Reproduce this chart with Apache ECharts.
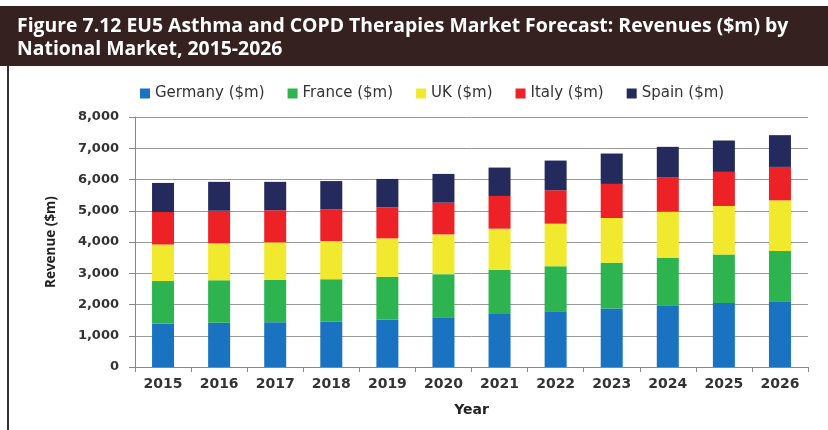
<!DOCTYPE html>
<html>
<head>
<meta charset="utf-8">
<script src="https://cdn.jsdelivr.net/npm/echarts@6/dist/echarts.min.js"></script>
<style>
  html, body { margin: 0; padding: 0; background: #fff; }
  #chart { width: 828px; height: 430px; }
</style>
</head>
<body>
<div id="chart"></div>
<script>
var years = ['2015', '2016', '2017', '2018', '2019', '2020', '2021', '2022', '2023', '2024', '2025', '2026'];
var germany = [1390, 1418, 1433, 1445, 1518, 1593, 1700, 1785, 1871, 1978, 2052, 2106];
var france = [1360, 1357, 1359, 1365, 1368, 1379, 1411, 1443, 1464, 1507, 1550, 1603];
var uk = [1170, 1182, 1197, 1220, 1230, 1272, 1315, 1358, 1433, 1486, 1551, 1625];
var italy = [1040, 1043, 1026, 1010, 994, 1015, 1047, 1069, 1090, 1090, 1090, 1069];
var spain = [930, 925, 910, 910, 908, 920, 909, 951, 973, 984, 1005, 1016];

var chart = echarts.init(document.getElementById('chart'));

function bar(name, data, color) {
    return {
        name: name,
        type: 'bar',
        stack: 'total',
        barWidth: 22,
        itemStyle: { color: color },
        data: data
    };
}

chart.setOption({
    animation: false,
    textStyle: { fontFamily: 'DejaVu Sans' },
    graphic: [
        { type: 'rect', shape: { x: 0, y: 6, width: 828, height: 60 }, style: { fill: '#35211f' }, z: -1 },
        { type: 'rect', shape: { x: 7, y: 66, width: 2, height: 364 }, style: { fill: '#333' } }
    ],
    title: {
        text: 'Figure 7.12 EU5 Asthma and COPD Therapies Market Forecast: Revenues ($m) by\nNational Market, 2015-2026',
        left: 12,
        top: 10,
        textStyle: {
            color: '#fff',
            fontFamily: 'Open Sans',
            fontWeight: 'bold',
            fontSize: 19.4,
            lineHeight: 23
        }
    },
    legend: {
        top: 81,
        left: 135,
        itemWidth: 10,
        itemHeight: 10,
        itemGap: 23,
        icon: 'rect',
        textStyle: { color: '#333', fontSize: 15, fontFamily: 'DejaVu Sans' },
        data: ['Germany ($m)', 'France ($m)', 'UK ($m)', 'Italy ($m)', 'Spain ($m)']
    },
    grid: { left: 135, right: 20, top: 117, bottom: 63 },
    xAxis: {
        type: 'category',
        data: years,
        name: 'Year',
        nameLocation: 'middle',
        nameGap: 36,
        nameTextStyle: { color: '#222', fontWeight: 'bold', fontSize: 14 },
        axisLine: { lineStyle: { color: '#888' } },
        axisTick: { show: true, length: 5, lineStyle: { color: '#888' } },
        axisLabel: { color: '#333', fontWeight: 'bold', fontSize: 14, margin: 10 }
    },
    yAxis: {
        type: 'value',
        min: 0,
        max: 8000,
        interval: 1000,
        name: 'Revenue ($m)',
        nameLocation: 'middle',
        nameGap: 77,
        nameTextStyle: { color: '#222', fontWeight: 'bold', fontSize: 13.5, fontFamily: 'Open Sans' },
        axisLine: { show: true, lineStyle: { color: '#888' } },
        axisTick: { show: true, length: 6, lineStyle: { color: '#888' } },
        axisLabel: {
            color: '#333',
            fontWeight: 'bold',
            fontSize: 13,
            margin: 16,
            formatter: function (v) { return v.toLocaleString('en-US'); }
        },
        splitLine: { lineStyle: { color: '#999' } }
    },
    series: [
        bar('Germany ($m)', germany, '#1a73c0'),
        bar('France ($m)', france, '#2db34f'),
        bar('UK ($m)', uk, '#f1e92e'),
        bar('Italy ($m)', italy, '#ec2227'),
        bar('Spain ($m)', spain, '#242a5c')
    ]
});
</script>
</body>
</html>
